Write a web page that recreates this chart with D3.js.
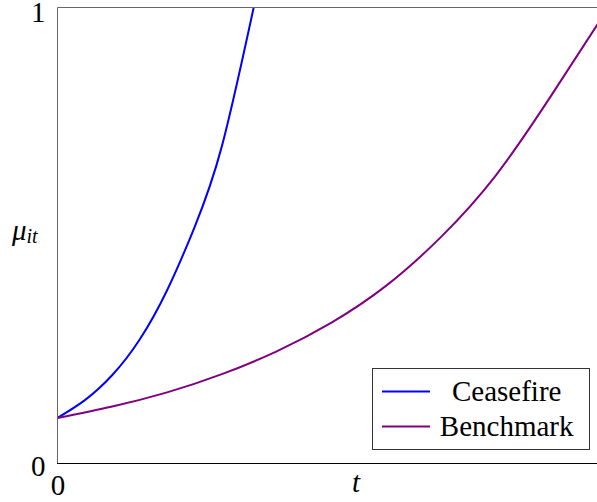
<!DOCTYPE html>
<html>
<head>
<meta charset="utf-8">
<script src="https://cdn.jsdelivr.net/npm/d3@7"></script>
<style>
  html, body { margin: 0; padding: 0; background: #fff; }
  svg { display: block; }
</style>
</head>
<body>
<svg id="chart" width="597" height="502"></svg>
<script>
// Time grid and adoption path under each regime
const ceasefireT  = [0, 0.05, 0.10, 0.15, 0.20, 0.25, 0.30, 0.358];
const ceasefireMu = [0.100, 0.139, 0.194, 0.272, 0.380, 0.518, 0.696, 1.000];

const benchmarkT  = [0, 0.1, 0.2, 0.3, 0.4, 0.5, 0.6, 0.7, 0.8, 0.9, 1.0];
const benchmarkMu = [0.100, 0.125, 0.156, 0.196, 0.246, 0.309, 0.390, 0.497, 0.632, 0.805, 0.990];

const seriesNames  = ["Ceasefire", "Benchmark"];
const seriesColors = ["#0000ff", "#800080"];

const xTicks = [0];
const yTicks = [0, 1];

const FONT = "'Liberation Serif', 'DejaVu Serif', 'Times New Roman', serif";

const svg = d3.select("#chart");

// Plot frame
const frame = { left: 57.5, right: 605.5, top: 7.5, bottom: 463.5 };

const x = d3.scaleLinear().domain([0, 1]).range([frame.left, frame.right]);
const y = d3.scaleLinear().domain([0, 1]).range([frame.bottom, frame.top]);

svg.append("defs").append("clipPath").attr("id", "plot-clip")
  .append("rect")
  .attr("x", frame.left).attr("y", frame.top)
  .attr("width", frame.right - frame.left).attr("height", frame.bottom - frame.top);

const line = d3.line()
  .x(d => x(d[0]))
  .y(d => y(d[1]))
  .curve(d3.curveNatural);

const series = [
  { name: seriesNames[0], color: seriesColors[0], pts: d3.zip(ceasefireT, ceasefireMu) },
  { name: seriesNames[1], color: seriesColors[1], pts: d3.zip(benchmarkT, benchmarkMu) }
];

const plot = svg.append("g").attr("clip-path", "url(#plot-clip)");
plot.selectAll("path.series")
  .data(series)
  .join("path")
  .attr("class", "series")
  .attr("fill", "none")
  .attr("stroke", d => d.color)
  .attr("stroke-width", 2)
  .attr("d", d => line(d.pts));

// Axis box
svg.append("line").attr("x1", frame.left).attr("x2", frame.right).attr("y1", frame.top).attr("y2", frame.top)
  .attr("stroke", "#666").attr("stroke-width", 1);
svg.append("line").attr("x1", frame.left).attr("x2", frame.left).attr("y1", frame.top).attr("y2", frame.bottom)
  .attr("stroke", "#666").attr("stroke-width", 1);
svg.append("line").attr("x1", frame.right).attr("x2", frame.right).attr("y1", frame.top).attr("y2", frame.bottom)
  .attr("stroke", "#666").attr("stroke-width", 1);
svg.append("line").attr("x1", frame.left - 0.5).attr("x2", frame.right).attr("y1", frame.bottom).attr("y2", frame.bottom)
  .attr("stroke", "#000").attr("stroke-width", 1);

// Axes (labels only)
const yAxis = svg.append("g")
  .attr("transform", `translate(${frame.left},0)`)
  .call(d3.axisLeft(y).tickValues(yTicks).tickSize(0).tickPadding(12).tickFormat(d3.format("d")));
const xAxis = svg.append("g")
  .attr("transform", `translate(0,${frame.bottom})`)
  .call(d3.axisBottom(x).tickValues(xTicks).tickSize(0).tickPadding(11).tickFormat(d3.format("d")));
[yAxis, xAxis].forEach(g => {
  g.select(".domain").remove();
  g.attr("font-family", null).attr("font-size", null);
  g.selectAll("text")
    .attr("fill", "#000")
    .style("font-family", FONT)
    .style("font-size", "29px");
});
// top label sits just inside the page edge
yAxis.selectAll("text").attr("dy", d => d === 1 ? 13.5 : 11.5);

// Axis titles
svg.append("text")
  .attr("x", 356).attr("y", 492)
  .attr("text-anchor", "middle")
  .style("font-family", FONT)
  .style("font-style", "italic")
  .style("font-size", "29px")
  .text("t");

const yl = svg.append("text")
  .attr("x", 12).attr("y", 240)
  .style("font-family", FONT)
  .style("font-style", "italic")
  .style("font-size", "29px");
yl.append("tspan").text("μ");
yl.append("tspan").attr("dy", 3).style("font-size", "20px").text("it");

// Legend
const lg = svg.append("g");
lg.append("rect")
  .attr("x", 372.5).attr("y", 368.5)
  .attr("width", 217).attr("height", 81)
  .attr("fill", "#fff").attr("stroke", "#333").attr("stroke-width", 1);
const rows = lg.selectAll("g.row").data(series).join("g").attr("class", "row")
  .attr("transform", (d, i) => `translate(0,${391.5 + i * 35})`);
rows.append("line")
  .attr("x1", 382).attr("x2", 430).attr("y1", 0).attr("y2", 0)
  .attr("stroke", d => d.color).attr("stroke-width", 2);
rows.append("text")
  .attr("x", 506.7).attr("y", 9)
  .attr("text-anchor", "middle")
  .style("font-family", FONT)
  .style("font-size", "29px")
  .text(d => d.name);
</script>
</body>
</html>
